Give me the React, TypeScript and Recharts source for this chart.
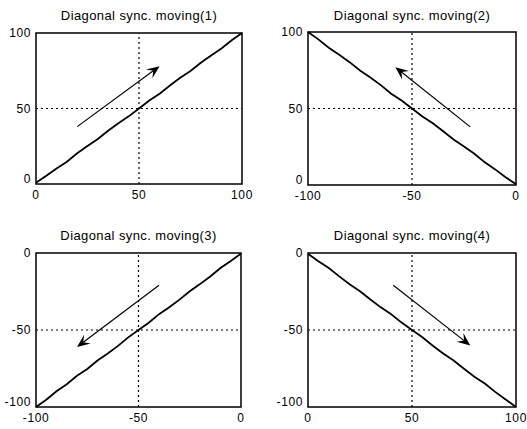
import React from "react";
import {
  LineChart,
  Line,
  XAxis,
  YAxis,
  ReferenceLine,
  ReferenceArea,
} from "recharts";

// x positions of the sampled diagonal
const POS_X = [0, 5, 10, 15, 20, 25, 30, 35, 40, 45, 50, 55, 60, 65, 70, 75, 80, 85, 90, 95, 100];
const NEG_X = [-100, -95, -90, -85, -80, -75, -70, -65, -60, -55, -50, -45, -40, -35, -30, -25, -20, -15, -10, -5, 0];

// traced y values for each run
const moving1 = [0.8, 5.4, 10.3, 14.7, 20.4, 25.2, 29.8, 35.3, 40.2, 44.8, 50, 55.3, 59.8, 65.2, 70.3, 74.9, 80.3, 85.1, 89.8, 95.2, 100];
const moving2 = [100, 95.2, 89.7, 85.1, 80.3, 74.8, 70.2, 65.3, 59.7, 55.2, 50, 44.8, 40.3, 35.1, 29.7, 25.2, 20.4, 14.8, 10.2, 5.1, 0.5];
const moving3 = [-100, -95.3, -89.8, -85.2, -79.7, -75.3, -69.8, -65.2, -60.3, -54.8, -50, -45.3, -39.7, -35.2, -30.3, -24.8, -20.2, -15.3, -9.8, -5.2, -0.4];
const moving4 = [-0.5, -5.3, -9.8, -15.2, -20.3, -24.8, -30.2, -35.3, -39.8, -45.2, -50, -54.7, -60.2, -65.3, -69.8, -75.2, -80.3, -84.8, -90.2, -95.1, -100];

// direction arrows [from, to]
const arrow1 = [{ x: 20, y: 38 }, { x: 60, y: 78 }];
const arrow2 = [{ x: -22, y: 38 }, { x: -58, y: 77 }];
const arrow3 = [{ x: -40, y: -21 }, { x: -80, y: -61 }];
const arrow4 = [{ x: 41, y: -21 }, { x: 78, y: -60 }];

const titles = [
  "Diagonal sync. moving(1)",
  "Diagonal sync. moving(2)",
  "Diagonal sync. moving(3)",
  "Diagonal sync. moving(4)",
];

const POS_TICKS = [0, 50, 100];
const NEG_TICKS = [-100, -50, 0];

const FONT = "'Liberation Sans', Arial, sans-serif";

function ArrowShape(props: any) {
  const { x1, y1, x2, y2 } = props;
  const dx = x2 - x1;
  const dy = y2 - y1;
  const len = Math.hypot(dx, dy) || 1;
  const ux = dx / len;
  const uy = dy / len;
  const nx = -uy;
  const ny = ux;
  const L = 13;
  const W = 5.5;
  const bx = x2 - ux * L;
  const by = y2 - uy * L;
  const mx = x2 - ux * L * 0.6;
  const my = y2 - uy * L * 0.6;
  return (
    <g>
      <line x1={x1} y1={y1} x2={mx} y2={my} stroke="#000" strokeWidth={1.2} />
      <path
        d={`M${x2},${y2} L${bx + nx * W},${by + ny * W} L${mx},${my} L${bx - nx * W},${by - ny * W} Z`}
        fill="#000"
      />
    </g>
  );
}

type Panel = {
  left: number;
  top: number;
  width: number;
  height: number;
  margin: { top: number; right: number; bottom: number; left: number };
  xs: number[];
  ys: number[];
  xTicks: number[];
  yTicks: number[];
  arrow: { x: number; y: number }[];
  title: string;
  titleTop: number;
};

const panels: Panel[] = [
  {
    left: 0, top: 0, width: 263, height: 215,
    margin: { top: 33, right: 21, bottom: 11, left: 6 },
    xs: POS_X, ys: moving1, xTicks: POS_TICKS, yTicks: POS_TICKS,
    arrow: arrow1, title: titles[0], titleTop: 8,
  },
  {
    left: 263, top: 0, width: 264, height: 215,
    margin: { top: 32, right: 11, bottom: 10, left: 15 },
    xs: NEG_X, ys: moving2, xTicks: NEG_TICKS, yTicks: POS_TICKS,
    arrow: arrow2, title: titles[1], titleTop: 8,
  },
  {
    left: 0, top: 215, width: 263, height: 214,
    margin: { top: 38, right: 22, bottom: 2, left: 6 },
    xs: NEG_X, ys: moving3, xTicks: NEG_TICKS, yTicks: NEG_TICKS,
    arrow: arrow3, title: titles[2], titleTop: 13,
  },
  {
    left: 263, top: 215, width: 264, height: 214,
    margin: { top: 38, right: 11, bottom: 2, left: 15 },
    xs: POS_X, ys: moving4, xTicks: POS_TICKS, yTicks: NEG_TICKS,
    arrow: arrow4, title: titles[3], titleTop: 13,
  },
];

const tickStyle = { fill: "#000", fontSize: 12, fontFamily: FONT, letterSpacing: 0.6 };

// y tick: bottom label is lifted a little so it clears the x label below it
function YTick(props: any) {
  const { x, y, payload, index } = props;
  const lift = index === 0 ? -5 : 0;
  return (
    <text
      x={x}
      y={y + lift}
      dy="0.355em"
      textAnchor="end"
      fill="#000"
      fontSize={12}
      fontFamily={FONT}
      letterSpacing={0.6}
    >
      {payload.value}
    </text>
  );
}

function SubPlot({ p }: { p: Panel }) {
  const data = p.xs.map((x, i) => ({ x, y: p.ys[i] }));
  const xDom: [number, number] = [p.xTicks[0], p.xTicks[p.xTicks.length - 1]];
  const yDom: [number, number] = [p.yTicks[0], p.yTicks[p.yTicks.length - 1]];
  const xMid = p.xTicks[1];
  const yMid = p.yTicks[1];
  const plotLeft = p.margin.left + 30;
  const plotRight = p.width - p.margin.right;
  return (
    <div style={{ position: "absolute", left: p.left, top: p.top, width: p.width, height: p.height }}>
      <div
        style={{
          position: "absolute",
          top: p.titleTop,
          left: plotLeft,
          width: plotRight - plotLeft,
          textAlign: "center",
          fontFamily: FONT,
          fontSize: 13,
          letterSpacing: 0.4,
          lineHeight: "15px",
          color: "#000",
        }}
      >
        {p.title}
      </div>
      <LineChart width={p.width} height={p.height} data={data} margin={p.margin}>
        <XAxis
          dataKey="x"
          type="number"
          domain={xDom}
          ticks={p.xTicks}
          axisLine={false}
          tickLine={false}
          tickSize={0}
          tickMargin={6}
          height={20}
          tick={tickStyle}
          interval={0}
        />
        <YAxis
          type="number"
          domain={yDom}
          ticks={p.yTicks}
          axisLine={false}
          tickLine={false}
          tickSize={0}
          tickMargin={5}
          width={30}
          tick={(props: any) => <YTick {...props} />}
          interval={0}
        />
        <ReferenceLine x={xMid} stroke="#000" strokeWidth={1.2} strokeDasharray="2 3" />
        <ReferenceLine y={yMid} stroke="#000" strokeWidth={1.2} strokeDasharray="2 3" />
        <Line
          dataKey="y"
          stroke="#000"
          strokeWidth={1.8}
          dot={false}
          isAnimationActive={false}
          type="linear"
        />
        <ReferenceLine
          segment={[p.arrow[0], p.arrow[1]]}
          stroke="#000"
          shape={(props: any) => <ArrowShape {...props} />}
        />
        <ReferenceArea
          x1={xDom[0]}
          x2={xDom[1]}
          y1={yDom[0]}
          y2={yDom[1]}
          fill="none"
          fillOpacity={0}
          stroke="#000"
          strokeWidth={1.5}
          ifOverflow="visible"
        />
      </LineChart>
    </div>
  );
}

export default function App() {
  return (
    <div style={{ position: "absolute", left: 0, top: 0, width: 527, height: 429, background: "#fff" }}>
      {panels.map((p, i) => (
        <SubPlot key={i} p={p} />
      ))}
    </div>
  );
}
